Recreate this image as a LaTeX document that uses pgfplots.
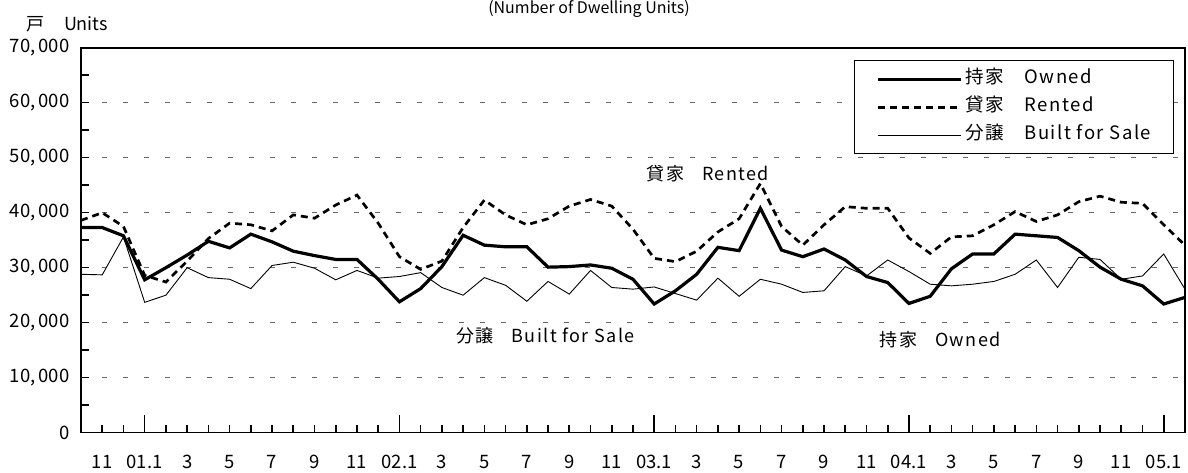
\documentclass[border=0pt]{standalone}
\usepackage{fontspec}
\setmainfont{Noto Sans CJK JP}
\newfontfamily\lsfont[LetterSpace=8]{Noto Sans CJK JP}
\usepackage{pgfplots}
\usepackage{pgfplotstable}
\pgfplotsset{compat=1.18}
\pgfplotstableread{
i owned rented sale
0 37300 38600 28800
1 37300 40000 28700
2 35800 37500 35600
3 27800 28600 23700
4 30000 27400 25000
5 32300 31200 30000
6 34800 35300 28200
7 33600 38100 27900
8 36100 37800 26200
9 34700 36700 30400
10 33000 39600 31000
11 32200 39000 29900
12 31500 41400 27800
13 31500 43200 29500
14 27900 38100 28100
15 23800 32000 28400
16 26200 29700 29100
17 30200 31200 26400
18 35900 37300 25000
19 34100 42300 28200
20 33800 39600 26800
21 33800 37800 23900
22 30100 38900 27500
23 30200 41200 25200
24 30500 42400 29500
25 29900 41200 26400
26 27900 37000 26100
27 23400 31700 26500
28 25800 31100 25300
29 28800 33000 24100
30 33700 36500 28100
31 33100 38900 24800
32 40800 45300 27900
33 33200 37500 27000
34 32000 34100 25500
35 33400 37800 25800
36 31400 41100 30200
37 28400 40800 28500
38 27300 40800 31400
39 23500 35400 29300
40 24800 32600 27000
41 29800 35600 26700
42 32500 35800 27000
43 32500 37800 27500
44 36100 40200 28800
45 35800 38400 31400
46 35500 39600 26400
47 33100 42000 31900
48 30100 43000 31500
49 27900 41900 27900
50 26700 41700 28500
51 23400 37800 32500
52 24600 34100 26100
}\datatable
\begin{document}
\begin{tikzpicture}[x=1pt,y=1pt]
\begin{axis}[
  at={(81pt,40.3pt)}, anchor=south west,
  scale only axis, width=1104pt, height=385pt,
  xmin=0, xmax=52, ymin=0, ymax=70000,
  axis line style={line width=1.6pt},
  tick style={line width=1.6pt, black},
  tick align=inside,
  xtick pos=left, ytick pos=left,
  xtick={1,3,...,51},
  xticklabels={11,01.1,3,5,7,9,11,02.1,3,5,7,9,11,03.1,3,5,7,9,11,04.1,3,5,7,9,11,05.1},
  minor xtick={0,2,...,52},
  major tick length=8pt, minor tick length=8pt,
  extra x ticks={3,15,27,39,51},
  extra x tick labels={},
  extra x tick style={major tick length=18pt},
  ytick={0,10000,...,70000},
  minor ytick={5000,15000,...,65000},
  ymajorgrids,
  major grid style={dash pattern=on 5pt off 16pt, black!60, line width=1.1pt},
  scaled y ticks=false,
  /pgf/number format/1000 sep={,\,},
  /pgf/number format/assume math mode=true,
  tick label style={font=\fontsize{18.5}{22}\selectfont},
  yticklabel style={xshift=-8pt},
  xticklabel style={yshift=-19pt},
  legend style={
    at={(axis description cs:0.9905,0.968)}, anchor=north east,
    draw=black, line width=1.3pt, fill=white,
    inner xsep=22pt, inner ysep=6pt,
    row sep=3pt,
    font=\lsfont\fontsize{18.5}{22}\selectfont,
    nodes={inner sep=3pt, text height=14pt, text depth=5pt},
  },
  legend cell align=left,
  legend image code/.code={\draw[#1] (0pt,0pt) -- (83pt,0pt);},
]
\addplot[black, line width=3.2pt] table[x=i,y=owned] {\datatable};
\addlegendentry{\makebox[183pt][l]{持家\hspace{1.1em}Owned}}
\addplot[black, line width=2.7pt, dash pattern=on 7pt off 5pt] table[x=i,y=rented] {\datatable};
\addlegendentry{\makebox[183pt][l]{貸家\hspace{1.1em}Rented}}
\addplot[black, line width=0.9pt] table[x=i,y=sale] {\datatable};
\addlegendentry{\makebox[183pt][l]{分譲\hspace{1.1em}Built for Sale}}
\node[font=\lsfont\fontsize{18}{22}\selectfont] at (axis cs:29.53,47060) {貸家\hspace{1em}Rented};
\node[font=\lsfont\fontsize{18}{22}\selectfont] at (axis cs:21.88,17600) {分譲\hspace{1em}Built for Sale};
\node[font=\lsfont\fontsize{18}{22}\selectfont] at (axis cs:40.47,16850) {持家\hspace{1em}Owned};
\end{axis}
\node[anchor=west, inner sep=0pt, font=\fontsize{18}{22}\selectfont] at (26pt,449pt) {戸\hspace{1.1em}Units};
\node[anchor=north, inner sep=0pt, font=\fontsize{16}{20}\selectfont] at (589pt,472.5pt) {(Number of Dwelling Units)};
\pgfresetboundingbox
\useasboundingbox (0pt,0pt) rectangle (1188pt,473pt);
\end{tikzpicture}
\end{document}
